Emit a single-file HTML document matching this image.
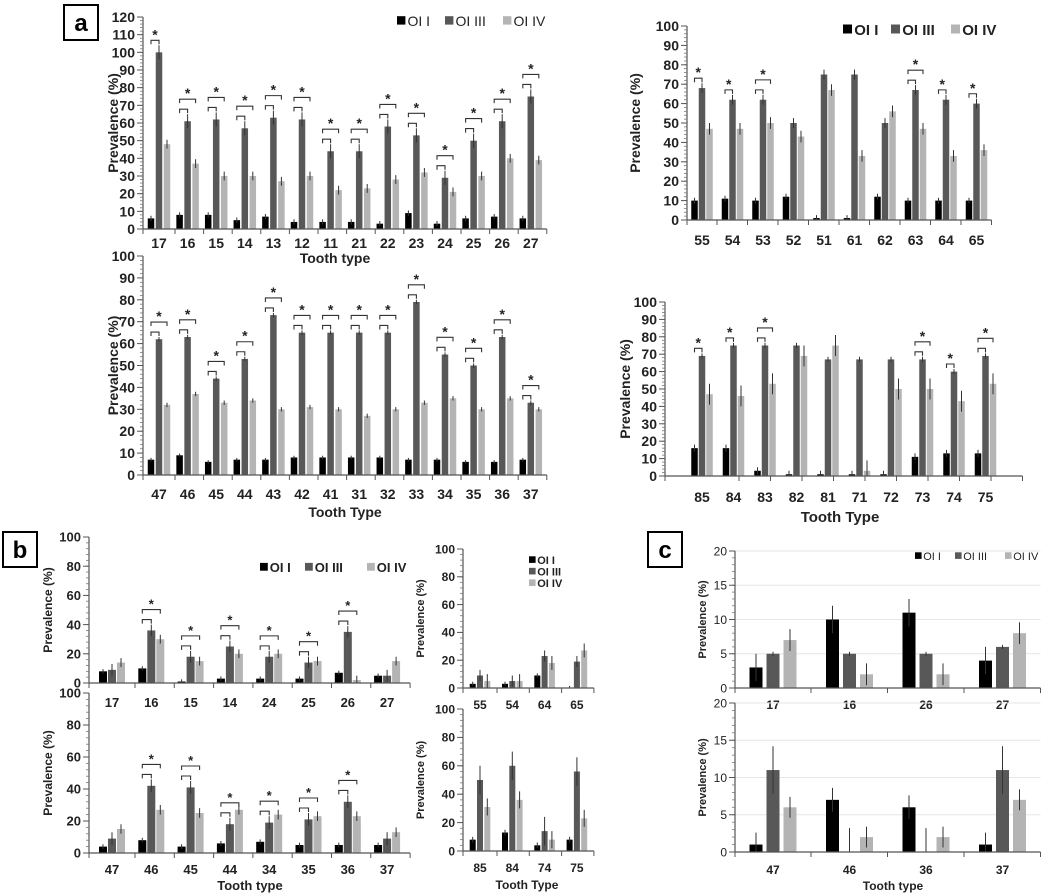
<!DOCTYPE html>
<html><head><meta charset="utf-8">
<style>
html,body{margin:0;padding:0;background:#fff;}
svg{display:block;font-family:"Liberation Sans",Arial,sans-serif;}
</style></head>
<body>
<svg id="fig" width="1050" height="896" viewBox="0 0 1050 896" xmlns="http://www.w3.org/2000/svg"></svg>
<script>
// ---------- DATA ----------
const aTopLeftCats=["17","16","15","14","13","12","11","21","22","23","24","25","26","27"];
const aTopLeftOI1=[6,8,8,5,7,4,4,4,3,9,3,6,7,6];
const aTopLeftOI3=[100,61,62,57,63,62,44,44,58,53,29,50,61,75];
const aTopLeftOI4=[48,37,30,30,27,30,22,23,28,32,21,30,40,39];
const aTopLeftSig=[1,2,2,2,2,2,2,2,2,2,2,2,2,2];

const aTopRightCats=["55","54","53","52","51","61","62","63","64","65"];
const aTopRightOI1=[10,11,10,12,1,1,12,10,10,10];
const aTopRightOI3=[68,62,62,50,75,75,50,67,62,60];
const aTopRightOI4=[47,47,50,43,67,33,56,47,33,36];
const aTopRightSig=[1,1,2,0,0,0,0,2,1,1];

const aBotLeftCats=["47","46","45","44","43","42","41","31","32","33","34","35","36","37"];
const aBotLeftOI1=[7,9,6,7,7,8,8,8,8,7,7,6,6,7];
const aBotLeftOI3=[62,63,44,53,73,65,65,65,65,79,55,50,63,33];
const aBotLeftOI4=[32,37,33,34,30,31,30,27,30,33,35,30,35,30];
const aBotLeftSig=[2,2,2,2,2,2,2,2,2,2,2,2,2,2];

const aBotRightCats=["85","84","83","82","81","71","72","73","74","75"];
const aBotRightOI1=[16,16,3,1,1,1,1,11,13,13];
const aBotRightOI3=[69,75,75,75,67,67,67,67,60,69];
const aBotRightOI4=[47,46,53,69,75,3,50,50,43,53];
const aBotRightSig=[1,1,2,0,0,0,0,2,1,2];

const bTopLeftCats=["17","16","15","14","24","25","26","27"];
const bTopLeftOI1=[8,10,1,3,3,3,7,5];
const bTopLeftOI3=[9,36,18,25,18,14,35,5];
const bTopLeftOI4=[14,30,15,20,20,15,2,15];
const bTopLeftSig=[0,2,2,2,2,2,2,0];

const bBotLeftCats=["47","46","45","44","34","35","36","37"];
const bBotLeftOI1=[4,8,4,6,7,5,5,5];
const bBotLeftOI3=[9,42,41,18,19,21,32,9];
const bBotLeftOI4=[15,27,25,27,24,23,23,13];
const bBotLeftSig=[0,2,2,2,2,2,2,0];

const bTopRightCats=["55","54","64","65"];
const bTopRightOI1=[3,3,9,0];
const bTopRightOI3=[9,5,23,19];
const bTopRightOI4=[5,5,18,27];

const bBotRightCats=["85","84","74","75"];
const bBotRightOI1=[8,13,4,8];
const bBotRightOI3=[50,60,14,56];
const bBotRightOI4=[31,36,8,23];

const cTopCats=["17","16","26","27"];
const cTopOI1=[3,10,11,4];
const cTopOI3=[5,5,5,6];
const cTopOI4=[7,2,2,8];

const cBotCats=["47","46","36","37"];
const cBotOI1=[1,7,6,1];
const cBotOI3=[11,0,0,11];
const cBotOI4=[6,2,2,7];

const errA=[1.5,4,2.5];
const errB=[1.5,4,3];
const errBR=[2,10,6];
const errC=[2,0.3,1.6];
const errCB=[1.6,3.2,1.4];

// ---------- DRAW ----------
const NS="http://www.w3.org/2000/svg";
const svg=document.getElementById('fig');
const COLORS=["#000000","#585858","#b4b4b4"];
function mk(tag,attrs,parent){const e=document.createElementNS(NS,tag);for(const k in attrs)e.setAttribute(k,attrs[k]);(parent||svg).appendChild(e);return e;}
function txt(s,attrs,parent){const e=mk('text',attrs,parent);e.textContent=s;return e;}

function chart(c){
  const g=mk('g',{});
  
  
  const ys=v=>c.y0-(v/c.ymax)*(c.y0-c.yTop);
  const n=c.cats.length;
  const xs=i=>c.c0+i*c.dx;
  const half=c.c0-c.x0;
  const axisEnd=c.x0+half*2+(n-1)*c.dx;
  if(c.grid){for(let v=c.step;v<=c.ymax;v+=c.step){const gl=mk('line',{x1:c.x0,x2:axisEnd,y1:ys(v),y2:ys(v),stroke:"#e6e6e6","stroke-width":1},g);}}
  const ya=mk('line',{x1:c.x0,x2:c.x0,y1:c.yTop,y2:c.y0,stroke:"#555","stroke-width":1.2},g);
  
  for(let v=0;v<=c.ymax+1e-9;v+=c.minor){mk('line',{x1:c.x0-3,x2:c.x0,y1:ys(v),y2:ys(v),stroke:"#777","stroke-width":0.8},g);}
  for(let v=0;v<=c.ymax+1e-9;v+=c.step){
    mk('line',{x1:c.x0-6,x2:c.x0,y1:ys(v),y2:ys(v),stroke:"#555","stroke-width":1},g);
    const t=txt(String(v),{x:c.x0-8,y:ys(v)+c.tf*0.36,"text-anchor":"end","font-size":c.tf,"font-weight":c.tw,fill:"#222"},g);
    
  }
  const series=[c.s1,c.s2,c.s3];
  for(let i=0;i<n;i++){
    for(let s=0;s<3;s++){
      const v=series[s][i];const cx=xs(i)+(s-1)*c.gap;
      const b=mk('rect',{x:cx-c.bw/2,y:ys(v),width:c.bw,height:c.y0-ys(v),fill:COLORS[s]},g);
      
      const e=c.err[s];
      mk('line',{x1:cx,x2:cx,y1:ys(v+e),y2:ys(Math.max(0,v-e)),stroke:"#333","stroke-width":1},g);
    }
    if(c.sig&&c.sig[i]){
      const top=ys(c.s2[i]+c.err[1])-5;
      const l=xs(i)-c.gap, m=xs(i), r=xs(i)+c.gap;
      mk('path',{d:`M${l},${top+4} V${top} H${m} V${top+4}`,fill:"none",stroke:"#333","stroke-width":1.1},g);
      let sy=top;
      if(c.sig[i]==2){sy=top-10;mk('path',{d:`M${l},${sy+4} V${sy} H${r} V${sy+4}`,fill:"none",stroke:"#333","stroke-width":1.1},g);}
      const st=txt("*",{x:c.sig[i]==2?m:(l+m)/2,y:sy-1,"text-anchor":"middle","font-size":c.tf,"font-weight":"bold",fill:"#222"},g);
      
    }
  }
  const xa=mk('line',{x1:c.x0,x2:axisEnd,y1:c.y0,y2:c.y0,stroke:"#555","stroke-width":1.2},g);
  
  for(let i=0;i<=n;i++){const tx=i==0?c.x0:c.x0+half*2+(i-1)*c.dx;mk('line',{x1:tx,x2:tx,y1:c.y0,y2:c.y0+5,stroke:"#555","stroke-width":1},g);}
  for(let i=0;i<n;i++){
    const t=txt(c.cats[i],{x:xs(i),y:c.labY,"text-anchor":"middle","font-size":c.xf,"font-weight":"bold",fill:"#222"},g);
    
  }
  const yt=txt("Prevalence (%)",{x:0,y:0,"text-anchor":"middle","font-size":c.titf,"font-weight":"bold",fill:"#222",transform:`translate(${c.titX},${(c.yTop+c.y0)/2}) rotate(-90)`},g);
  
  if(c.xTitle){const xt=txt(c.xTitle,{x:c.xtX,y:c.xtY,"text-anchor":"middle","font-size":c.xtf,"font-weight":"bold",fill:"#222"},g);
    }
  if(c.legend){
    const L=c.legend;const lg=mk('g',{},g);
    
    const names=["OI I","OI III","OI IV"];
    let x=L.x,y=L.y;
    for(let s=0;s<3;s++){
      mk('rect',{x:x,y:y-L.f*0.7,width:L.f*0.6,height:L.f*0.6,fill:COLORS[s]},lg);
      const t=txt(names[s],{x:x+L.f*0.75,y:y,"font-size":L.f,"font-weight":L.w,fill:"#222"},lg);
      
      if(L.vertical){y+=L.f*1.05;}else{x+=L.sp[s];}
    }
  }
}

chart({name:"chart-a-upper-permanent",x0:143,y0:229,yTop:17,ymax:120,step:10,minor:2,c0:159,dx:28.6,bw:6.5,gap:8,
  cats:aTopLeftCats,s1:aTopLeftOI1,s2:aTopLeftOI3,s3:aTopLeftOI4,sig:aTopLeftSig,err:errA,tf:14,tw:"bold",xf:14,labY:248,
  titX:118,titf:14,xTitle:"Tooth type",xtX:335,xtY:263,xtf:14,legend:{x:397,y:26,f:14,w:"normal",sp:[48,58,52]}});
chart({name:"chart-a-upper-primary",x0:687,y0:220,yTop:26,ymax:100,step:10,minor:2,c0:702,dx:30.5,bw:6.5,gap:7.5,
  cats:aTopRightCats,s1:aTopRightOI1,s2:aTopRightOI3,s3:aTopRightOI4,sig:aTopRightSig,err:[1.5,2.5,3],tf:14,tw:"bold",xf:14,labY:245,
  titX:640,titf:14,legend:{x:843,y:35,f:15,w:"bold",sp:[48,60,60]}});
chart({name:"chart-a-lower-permanent",x0:143,y0:475,yTop:256,ymax:100,step:10,minor:2,c0:159,dx:28.6,bw:6.5,gap:8,
  cats:aBotLeftCats,s1:aBotLeftOI1,s2:aBotLeftOI3,s3:aBotLeftOI4,sig:aBotLeftSig,err:[0.8,1,1],tf:14,tw:"bold",xf:14,labY:499,
  titX:118,titf:14,xTitle:"Tooth Type",xtX:345,xtY:517,xtf:14});
chart({name:"chart-a-lower-primary",x0:665,y0:476,yTop:302,ymax:100,step:10,minor:2,c0:702,dx:31.5,bw:6.5,gap:7.5,
  cats:aBotRightCats,s1:aBotRightOI1,s2:aBotRightOI3,s3:aBotRightOI4,sig:aBotRightSig,err:[2,1.5,6],tf:14,tw:"bold",xf:14,labY:502,
  titX:630,titf:14,xTitle:"Tooth Type",xtX:840,xtY:522,xtf:15});
chart({name:"chart-b-upper-permanent",x0:89,y0:683,yTop:537,ymax:100,step:20,minor:4,c0:112,dx:39.3,bw:8,gap:9,
  cats:bTopLeftCats,s1:bTopLeftOI1,s2:bTopLeftOI3,s3:bTopLeftOI4,sig:bTopLeftSig,err:errB,tf:13,tw:"bold",xf:13,labY:707,
  titX:52,titf:12,legend:{x:260,y:572,f:13,w:"bold",sp:[45,62,50]}});
chart({name:"chart-b-lower-permanent",x0:89,y0:853,yTop:693,ymax:100,step:20,minor:4,c0:112,dx:39.3,bw:8,gap:9,
  cats:bBotLeftCats,s1:bBotLeftOI1,s2:bBotLeftOI3,s3:bBotLeftOI4,sig:bBotLeftSig,err:errB,tf:13,tw:"bold",xf:13,labY:874,
  titX:52,titf:12,xTitle:"Tooth type",xtX:250,xtY:890,xtf:13});
chart({name:"chart-b-upper-primary",x0:463,y0:688,yTop:549,ymax:100,step:20,minor:4,c0:480,dx:32.3,bw:6,gap:7.3,
  cats:bTopRightCats,s1:bTopRightOI1,s2:bTopRightOI3,s3:bTopRightOI4,err:[1.5,4,5],tf:12,tw:"bold",xf:12,labY:709,
  titX:424,titf:11,legend:{x:529,y:564,f:11,w:"bold",vertical:true}});
chart({name:"chart-b-lower-primary",x0:463,y0:851,yTop:709,ymax:100,step:20,minor:4,c0:480,dx:32.3,bw:6,gap:7.3,
  cats:bBotRightCats,s1:bBotRightOI1,s2:bBotRightOI3,s3:bBotRightOI4,err:errBR,tf:12,tw:"bold",xf:12,labY:872,
  titX:424,titf:11,xTitle:"Tooth Type",xtX:527,xtY:889,xtf:12});
chart({name:"chart-c-upper",x0:735,y0:688,yTop:551,ymax:20,step:5,minor:1,c0:773,dx:76.5,bw:13,gap:17,grid:true,
  cats:cTopCats,s1:cTopOI1,s2:cTopOI3,s3:cTopOI4,err:errC,tf:12,tw:"normal",xf:12,labY:709,
  titX:706,titf:11,legend:{x:915,y:560,f:11,w:"normal",sp:[40,50,45]}});
chart({name:"chart-c-lower",x0:735,y0:852,yTop:703,ymax:20,step:5,minor:1,c0:773,dx:76.5,bw:13,gap:17,grid:true,
  cats:cBotCats,s1:cBotOI1,s2:cBotOI3,s3:cBotOI4,err:errCB,tf:12,tw:"normal",xf:12,labY:874,
  titX:706,titf:11,xTitle:"Tooth type",xtX:893,xtY:890,xtf:12});

[["a",64,5],["b",3,532],["c",648,532]].forEach(p=>{
  const g=mk('g',{});
  
  
  mk('rect',{x:p[1],y:p[2],width:34,height:35,fill:"#fff",stroke:"#000","stroke-width":2},g);
  txt(p[0],{x:p[1]+17,y:p[2]+26,"text-anchor":"middle","font-size":24,"font-weight":"bold",fill:"#000"},g);
});
</script>
</body></html>
